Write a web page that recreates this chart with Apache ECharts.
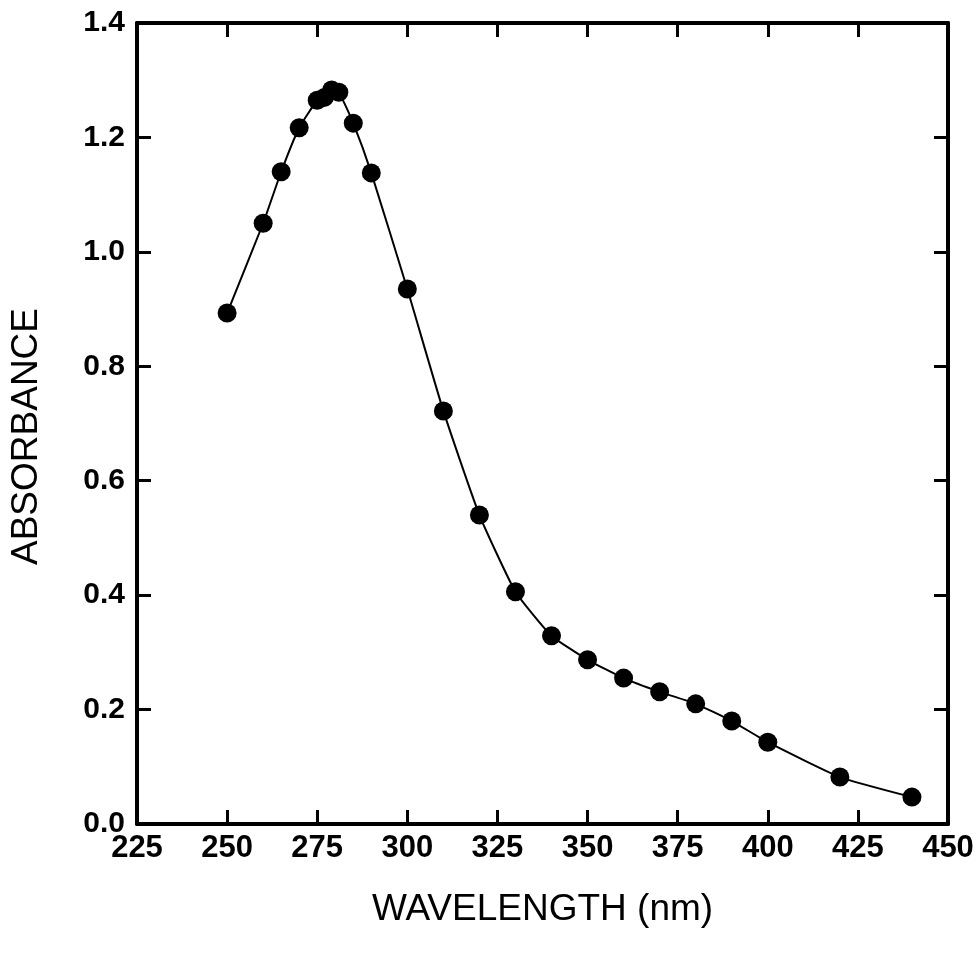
<!DOCTYPE html>
<html>
<head>
<meta charset="utf-8">
<title>Absorbance spectrum</title>
<script src="https://cdn.jsdelivr.net/npm/echarts@6/dist/echarts.min.js"></script>
<style>
  html, body { margin: 0; padding: 0; background: #fff; }
  #chart { width: 978px; height: 954px; }
</style>
</head>
<body>
<div id="chart"></div>
<script>
// wavelength (nm) and absorbance
var wavelength = [250, 260, 265, 270, 275, 277, 279, 281, 285, 290, 300, 310, 320, 330, 340, 350, 360, 370, 380, 390, 400, 420, 440];
var absorbance = [0.893, 1.050, 1.140, 1.217, 1.265, 1.270, 1.283, 1.279, 1.225, 1.138, 0.935, 0.722, 0.540, 0.406, 0.329, 0.287, 0.255, 0.231, 0.210, 0.180, 0.143, 0.082, 0.047];

var xMin = 225, xMax = 450, xStep = 25;
var yMin = 0, yMax = 1.4, yStep = 0.2;

var font = '"Liberation Sans", Arial, Helvetica, sans-serif';

var points = [];
for (var i = 0; i < wavelength.length; i++) {
  points.push([wavelength[i], absorbance[i]]);
}

var axisLine = { show: true, onZero: false, lineStyle: { color: '#000', width: 4 } };
var axisTick = { show: true, inside: true, length: 14, lineStyle: { color: '#000', width: 3 } };

var myChart = echarts.init(document.getElementById('chart'));
var option = {
  backgroundColor: '#fff',
  animation: false,
  grid: { left: 137, right: 30, top: 23, bottom: 130 },
  xAxis: [
    {
      type: 'value', position: 'bottom',
      min: xMin, max: xMax, interval: xStep,
      name: 'WAVELENGTH (nm)', nameLocation: 'middle', nameGap: 67,
      nameTextStyle: { fontFamily: font, fontSize: 37, color: '#000' },
      axisLine: axisLine, axisTick: axisTick,
      axisLabel: { fontFamily: font, fontSize: 31, fontWeight: 'bold', color: '#000', margin: 9 },
      splitLine: { show: false }
    },
    {
      type: 'value', position: 'top',
      min: xMin, max: xMax, interval: xStep,
      axisLine: axisLine, axisTick: axisTick,
      axisLabel: { show: false },
      splitLine: { show: false }
    }
  ],
  yAxis: [
    {
      type: 'value', position: 'left',
      min: yMin, max: yMax, interval: yStep,
      name: 'ABSORBANCE', nameLocation: 'middle', nameGap: 92, nameRotate: 90,
      nameTextStyle: { fontFamily: font, fontSize: 37, color: '#000', padding: [0, 26, 0, 0] },
      axisLine: axisLine, axisTick: axisTick,
      axisLabel: {
        fontFamily: font, fontSize: 30, fontWeight: 'bold', color: '#000', margin: 12,
        formatter: function (v) { return v.toFixed(1); }
      },
      splitLine: { show: false }
    },
    {
      type: 'value', position: 'right',
      min: yMin, max: yMax, interval: yStep,
      axisLine: axisLine, axisTick: axisTick,
      axisLabel: { show: false },
      splitLine: { show: false }
    }
  ],
  series: [
    {
      type: 'line',
      xAxisIndex: 0, yAxisIndex: 0,
      data: points,
      smooth: 0.15,
      symbol: 'circle',
      symbolSize: 19,
      itemStyle: { color: '#000' },
      lineStyle: { color: '#000', width: 2 }
    }
  ]
};
myChart.setOption(option);
</script>
</body>
</html>
